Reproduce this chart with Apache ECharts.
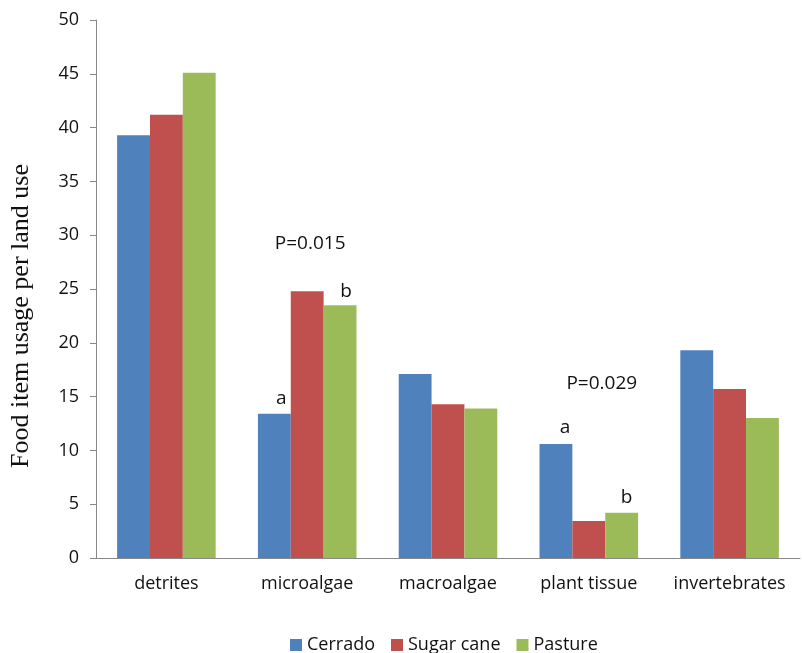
<!DOCTYPE html>
<html><head><meta charset="utf-8">
<script src="https://cdn.jsdelivr.net/npm/echarts@6/dist/echarts.min.js"></script>
<style>html,body{margin:0;padding:0;background:#fff}#c{width:802px;height:653px}</style>
</head><body><div id="c"></div>
<script>
const categories = ['detrites','microalgae','macroalgae','plant tissue','invertebrates'];
const seriesNames = ['Cerrado','Sugar cane','Pasture'];
const cerrado = [39.3, 13.4, 17.1, 10.6, 19.3];
const sugarCane = [41.2, 24.8, 14.3, 3.45, 15.7];
const pasture = [45.1, 23.5, 13.9, 4.2, 13.0];
const colors = ['#4F81BD','#C0504D','#9BBB59'];
// annotations: [series index, category index, text, offset]
const notes = [
  [0, 1, 'a', [7, 0]],
  [2, 1, 'b', [6, 2]],
  [1, 1, 'P=0.015', [3, -32]],
  [0, 3, 'a', [9, -1]],
  [2, 3, 'b', [5, 0]],
  [1, 3, 'P=0.029', [13, -122]]
];
const font = '"Open Sans", "Liberation Sans", sans-serif';
function build(vals, si){
  return vals.map((v, ci) => {
    const n = notes.find(x => x[0] === si && x[1] === ci);
    if (!n) return v;
    return {value: v, label: {show: true, position: 'top', formatter: n[2], offset: n[3],
      color: '#111', fontSize: 19, fontFamily: font, distance: 6}};
  });
}
const chart = echarts.init(document.getElementById('c'));
chart.setOption({
  animation: false,
  color: colors,
  grid: {left: 94, right: 2, top: 20, bottom: 95},
  legend: {top: 631, left: 285, itemWidth: 12, itemHeight: 12, itemGap: 16, icon: 'rect',
    textStyle: {fontSize: 18, fontFamily: font, color: '#111'}, data: seriesNames},
  xAxis: {type: 'category', data: categories,
    axisLine: {lineStyle: {color: '#888'}},
    axisTick: {length: 6, lineStyle: {color: '#888'}},
    axisLabel: {interval: 0, fontSize: 18, fontFamily: font, color: '#111', margin: 17}},
  yAxis: {type: 'value', min: 0, max: 50, interval: 5,
    name: 'Food item usage per land use', nameLocation: 'middle', nameGap: 62,
    nameTextStyle: {fontFamily: '"Liberation Serif", "DejaVu Serif", serif', fontSize: 26, color: '#111',
      padding: [0, 54, 0, 0]},
    axisLine: {show: true, lineStyle: {color: '#888'}},
    axisTick: {show: true, length: 6, lineStyle: {color: '#888'}},
    splitLine: {show: false},
    axisLabel: {fontSize: 18, fontFamily: font, color: '#111', margin: 17}},
  series: [
    {name: seriesNames[0], type: 'bar', data: build(cerrado, 0), barGap: '0%', barCategoryGap: '30%'},
    {name: seriesNames[1], type: 'bar', data: build(sugarCane, 1), barGap: '0%', barCategoryGap: '30%'},
    {name: seriesNames[2], type: 'bar', data: build(pasture, 2), barGap: '0%', barCategoryGap: '30%'}
  ]
});
</script></body></html>
